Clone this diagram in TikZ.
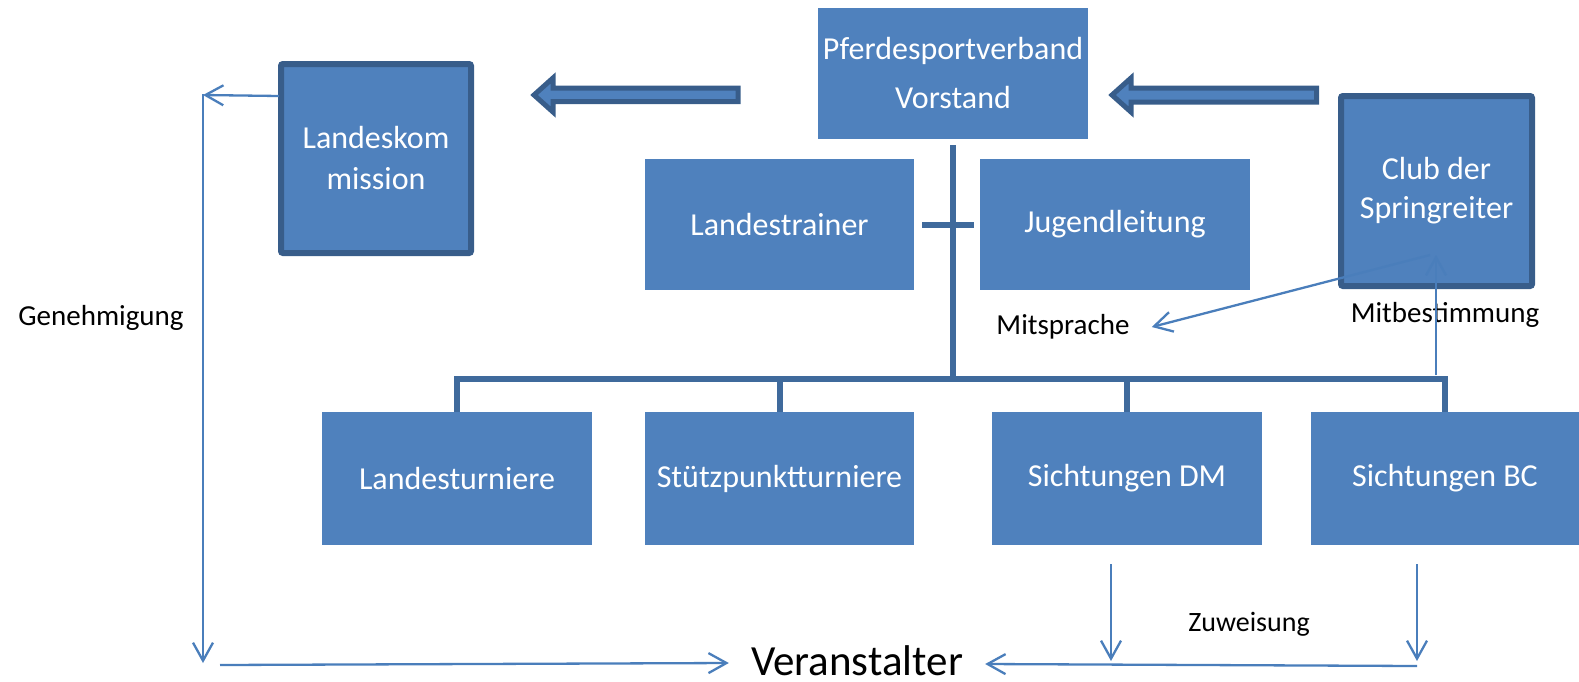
\documentclass[tikz,border=0pt]{standalone}
\usepackage{fontspec}
\setmainfont{Carlito}
\usetikzlibrary{arrows.meta}
\definecolor{boxfill}{HTML}{4F81BD}
\definecolor{boxedge}{HTML}{385D8A}
\definecolor{treeline}{HTML}{3F6A9C}
\definecolor{thinline}{HTML}{4A7EBB}
\tikzset{
  box/.style={rectangle, fill=boxfill, text=white, inner sep=0pt, minimum width=270pt, minimum height=131pt, align=center, font=\fontsize{32}{38}\selectfont},
  thickbox/.style={box, draw=boxedge, line width=6pt, rounded corners=2pt},
  tree/.style={draw=treeline, line width=6pt},
  relarrow/.style={draw=thinline, line width=2.3pt, -{Straight Barb[length=18pt,width=20pt]}},
  lbl/.style={text=black, inner sep=0pt, font=\fontsize{29}{34}\selectfont},
  blockarrow/.style={fill=boxfill, draw=boxedge, line width=5pt, line join=miter},
}
\begin{document}
\begin{tikzpicture}[x=1pt,y=-1pt]
\useasboundingbox (0,0) rectangle (1579,681);
% boxes
\node[box, font=\fontsize{32}{49}\selectfont] (vorstand) at (953,73.5) {Pferdesportverband\\Vorstand};
\node[thickbox, minimum width=190pt, minimum height=189pt, font=\fontsize{32}{41}\selectfont] (komm) at (376,158.5) {Landeskom\\mission};
\node[box, minimum width=269pt] (trainer) at (779.5,224.5) {Landestrainer};
\node[box] (jugend) at (1115,224.5) {Jugendleitung};
\node[thickbox, minimum width=191pt, minimum height=190pt, font=\fontsize{32}{39}\selectfont] (club) at (1436.5,191) {Club der\\Springreiter};
\node[box, minimum height=133pt] (turniere) at (457,478.5) {Landesturniere};
\node[box, minimum height=133pt, minimum width=269pt] (stuetz) at (779.5,478.5) {Stützpunktturniere};
\node[box, minimum height=133pt] (dm) at (1127,478.5) {Sichtungen DM};
\node[box, minimum height=133pt, minimum width=268pt] (bc) at (1445,478.5) {Sichtungen BC};
% labels
\node[lbl] (genehm) at (101,318) {Genehmigung};
\node[lbl, inner xsep=22pt] (mitspr) at (1063,327) {Mitsprache};
\node[lbl] (mitbest) at (1445,315) {Mitbestimmung};
\node[lbl, font=\fontsize{28}{34}\selectfont] (zuweis) at (1249,624) {Zuweisung};
\node[text=black, inner sep=0pt, inner xsep=22pt, anchor=base, font=\fontsize{43}{48}\selectfont] (ver) at (857,675) {Veranstalter};
% block arrows
\path[blockarrow] (738,88) -- (553,88) -- (553,78) -- (534,95) -- (553,112) -- (553,101.5) -- (738,101.5) -- cycle;
\path[blockarrow] (1316.5,88) -- (1131,88) -- (1131,78) -- (1112,95) -- (1131,112) -- (1131,102) -- (1316.5,102) -- cycle;
% tree
\coordinate (bar) at (953,379);
\draw[tree] ([yshift=-6pt]vorstand.south) -- (bar);
\draw[tree] ([xshift=8pt]trainer.east) -- ([xshift=-6pt]jugend.west);
\draw[tree] (turniere.north) -- (turniere.north |- bar) -- (bc.north |- bar) -- (bc.north);
\draw[tree] (stuetz.north |- bar) -- (stuetz.north);
\draw[tree] (dm.north |- bar) -- (dm.north);
% thin connectors
\coordinate (kout) at (279,96);
\coordinate (gtop) at (203,95);
\coordinate (gbot) at (203,663);
\coordinate (vstart) at (220,665);
\coordinate (vtip) at (ver.west |- 0,663);
\draw[relarrow] (kout) -- (gtop);
\draw[relarrow] ([yshift=1pt]gtop) -- (gbot);
\draw[relarrow] (vstart) -- (vtip);
\coordinate (clubpt) at (1430,255);
\draw[relarrow] (clubpt) -- (mitspr.east);
\coordinate (mbstart) at (1436,375);
\coordinate (mbtip) at (1436,255);
\draw[relarrow] (mbstart) -- (mbtip);
\coordinate (z1a) at (1111,564);
\coordinate (z1b) at (1111,661);
\coordinate (z2a) at (1417,564);
\coordinate (z2b) at (1417,661);
\coordinate (zr) at (1417,666);
\coordinate (vtipr) at (ver.east |- 0,664);
\draw[relarrow] (z1a) -- (z1b);
\draw[relarrow] (z2a) -- (z2b);
\draw[relarrow] (zr) -- (vtipr);
\end{tikzpicture}
\end{document}
